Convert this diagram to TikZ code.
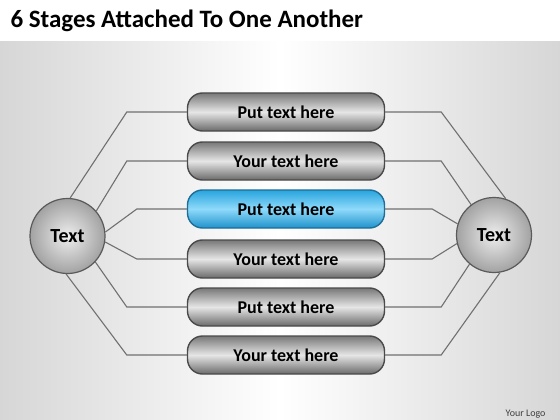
\documentclass[tikz,border=0pt]{standalone}
\usepackage{fontspec}
\setmainfont{Carlito}

\definecolor{bartop}{HTML}{787878}
\definecolor{barmid}{HTML}{E6E6E6}
\definecolor{barbot}{HTML}{6A6A6A}
\definecolor{barrim}{HTML}{4A4A4A}
\definecolor{bluetop}{HTML}{28A4DE}
\definecolor{bluemid}{HTML}{8FDAFA}
\definecolor{bluebot}{HTML}{1E92CC}
\definecolor{bluerim}{HTML}{1F6E96}
\definecolor{hubin}{HTML}{EEEEEE}
\definecolor{hubout}{HTML}{A2A2A2}
\definecolor{hubrim}{HTML}{5A5A5A}
\definecolor{linegray}{HTML}{707070}

\tikzset{
  stage/.style={rectangle,rounded corners=15pt,minimum width=197pt,minimum height=38pt,
    draw=barrim,line width=1.4pt,top color=bartop,bottom color=barbot,middle color=barmid,
    font=\bfseries\fontsize{18}{20}\selectfont},
  bluestage/.style={stage,draw=bluerim,top color=bluetop,bottom color=bluebot,middle color=bluemid},
  hub/.style={circle,minimum size=75pt,draw=hubrim,line width=1.2pt,
    inner color=hubin,outer color=hubout,font=\bfseries\fontsize{20}{22}\selectfont},
  link/.style={draw=linegray,line width=1.1pt}
}

\begin{document}
\begin{tikzpicture}[x=1pt,y=-1pt]
\useasboundingbox (0,0) rectangle (560,420);
\fill[white] (0,0) rectangle (560,42);
\shade[left color=black!16,right color=black!16,middle color=white] (0,42) rectangle (560,420);

\node[anchor=base west,font=\bfseries\fontsize{25}{28}\selectfont] (title) at (7,28) {6 Stages Attached To One Another};

\node[stage] (s1) at (286,112) {Put text here};
\node[stage] (s2) at (286,161) {Your text here};
\node[bluestage] (s3) at (286,209) {Put text here};
\node[stage] (s4) at (286,259) {Your text here};
\node[stage] (s5) at (286,307) {Put text here};
\node[stage] (s6) at (286,355) {Your text here};

\node[hub] (lt) at (67.5,236) {Text};
\node[hub] (rt) at (494,235) {Text};

\draw[link] (s1.west) -- ++(-60,0) -- (lt.86);
\draw[link] (s2.west) -- ++(-60,0) -- (lt.41);
\draw[link] (s3.west) -- ++(-50,0) -- (lt.6);
\draw[link] (s4.west) -- ++(-50,0) -- (lt.-9);
\draw[link] (s5.west) -- ++(-60,0) -- (lt.-43);
\draw[link] (s6.west) -- ++(-60,0) -- (lt.-92);

\draw[link] (s1.east) -- ++(56,0) -- (rt.72);
\draw[link] (s2.east) -- ++(56,0) -- (rt.127);
\draw[link] (s3.east) -- ++(47,0) -- (rt.163);
\draw[link] (s4.east) -- ++(47,0) -- (rt.193);
\draw[link] (s5.east) -- ++(56,0) -- (rt.230);
\draw[link] (s6.east) -- ++(56,0) -- (rt.279);

\node[anchor=base east,font=\fontsize{10}{12}\selectfont,text=black!75] (logo) at (549,416) {Your Logo};
%\node at (286,400) {};
\end{tikzpicture}
\end{document}
